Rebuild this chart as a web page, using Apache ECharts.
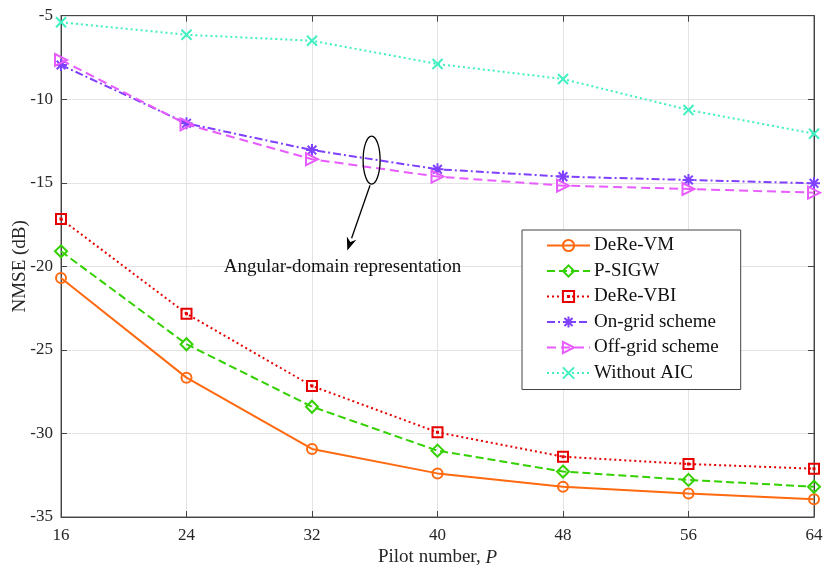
<!DOCTYPE html>
<html><head><meta charset="utf-8">
<script src="https://cdn.jsdelivr.net/npm/echarts@6/dist/echarts.min.js"></script>
<style>html,body{margin:0;padding:0;background:#fff}#c{width:831px;height:572px}</style>
</head><body><div id="c"></div>
<script>
const pilots = [16, 24, 32, 40, 48, 56, 64];
const dereVM = [-20.70, -26.66, -30.93, -32.39, -33.19, -33.59, -33.94];
const pSIGW = [-19.10, -24.66, -28.40, -31.03, -32.28, -32.78, -33.19];
const dereVBI = [-17.17, -22.83, -27.16, -29.93, -31.39, -31.83, -32.11];
const onGrid = [-7.95, -11.44, -13.04, -14.19, -14.63, -14.83, -15.03];
const offGrid = [-7.65, -11.50, -13.59, -14.63, -15.17, -15.37, -15.59];
const withoutAIC = [-5.39, -6.14, -6.50, -7.89, -8.79, -10.64, -12.06];
const xTicks = {min: 16, max: 64, interval: 8};
const yTicks = {min: -35, max: -5, interval: 5};
const annotationText = 'Angular-domain representation';
const ellipseCenter = [35.8, -13.64];
const arrowFrom = [35.7, -15.15];
const arrowTo = [34.25, -19.05];
const textPos = [33.95, -20.05];

const FONT = 'Liberation Serif';
const zip = a => pilots.map((p, i) => [p, a[i]]);

const SYM = {
  circle: 'circle',
  diamond: 'diamond',
  asterisk: 'path://M0,-1L0,1M-1,0L1,0M-0.72,-0.72L0.72,0.72M-0.72,0.72L0.72,-0.72',
  tri: 'path://M0,0L10,5L0,10Z',
  cross: 'path://M0,0L10,10M0,10L10,0',
  sq: 'path://M0,0H10V10H0ZM4.5,4.5H5.5V5.5H4.5Z'
};

function s(name, data, color, type, symbol, size) {
  return {
    name, type: 'line', data: zip(data), symbol, symbolSize: size,
    lineStyle: {color, width: 2, type},
    itemStyle: {color: 'transparent', borderColor: color, borderWidth: 2},
    emphasis: {disabled: true}, z: 3
  };
}

const series = [
  s('DeRe-VM', dereVM, '#ff6a10', 'solid', SYM.circle, 10),
  s('P-SIGW', pSIGW, '#33d100', [8, 4], SYM.diamond, 12),
  s('DeRe-VBI', dereVBI, '#e60000', [2, 3], SYM.sq, 10),
  s('On-grid scheme', onGrid, '#8040ff', [8, 3, 2, 3], SYM.asterisk, 12),
  s('Off-grid scheme', offGrid, '#e85cff', [9, 5], SYM.tri, 12),
  s('Without AIC', withoutAIC, '#40f0c0', [2, 3], SYM.cross, 10)
];

const tickLbl = {color: '#262626', fontFamily: FONT, fontSize: 17};
const axisCol = '#444';
const chart = echarts.init(document.getElementById('c'));
chart.setOption({
  animation: false,
  backgroundColor: '#fff',
  grid: {left: 61, right: 17, top: 15.7, bottom: 55, containLabel: false, outerBoundsMode: 'none', show: true, borderColor: '#555', borderWidth: 1, backgroundColor: 'transparent'},
  legend: {
    orient: 'vertical', left: 522, top: 230,
    backgroundColor: '#fff', borderColor: '#444', borderWidth: 1,
    padding: [6, 22, 7, 24], itemWidth: 43, itemHeight: 14, itemGap: 6.5,
    textStyle: {fontFamily: FONT, fontSize: 19, color: '#111', padding: [0, 0, 0, -1]},
    data: series.map(x => x.name)
  },
  xAxis: [{
    type: 'value', ...xTicks, position: 'bottom',
    name: '{a|Pilot number, }{b|P}', nameLocation: 'middle', nameGap: 31, nameMoveOverlap: false,
    nameTextStyle: {rich: {a: {fontFamily: FONT, fontSize: 19, color: '#262626'}, b: {fontFamily: FONT, fontSize: 19, fontStyle: 'italic', color: '#262626'}}},
    axisLine: {show: true, lineStyle: {color: axisCol}},
    axisTick: {inside: true, length: 6, lineStyle: {color: axisCol}},
    axisLabel: {...tickLbl, margin: 10},
    splitLine: {show: true, lineStyle: {color: '#e3e3e3'}}
  }, {
    type: 'value', ...xTicks, position: 'top',
    axisLine: {show: true, lineStyle: {color: axisCol}},
    axisTick: {inside: true, length: 6, lineStyle: {color: axisCol}},
    axisLabel: {show: false}, splitLine: {show: false}
  }],
  yAxis: [{
    type: 'value', ...yTicks, position: 'left',
    name: 'NMSE (dB)', nameLocation: 'middle', nameGap: 31, nameMoveOverlap: false,
    nameTextStyle: {fontFamily: FONT, fontSize: 19, color: '#262626'},
    axisLine: {show: true, lineStyle: {color: axisCol}},
    axisTick: {inside: true, length: 6, lineStyle: {color: axisCol}},
    axisLabel: {...tickLbl, margin: 8},
    splitLine: {show: true, lineStyle: {color: '#e3e3e3'}}
  }, {
    type: 'value', ...yTicks, position: 'right',
    axisLine: {show: true, lineStyle: {color: axisCol}},
    axisTick: {inside: true, length: 6, lineStyle: {color: axisCol}},
    axisLabel: {show: false}, splitLine: {show: false}
  }],
  series
});

const px = p => chart.convertToPixel({xAxisIndex: 0, yAxisIndex: 0}, p);
const ec = px(ellipseCenter), a0 = px(arrowFrom), a1 = px(arrowTo), tp = px(textPos);
const dx = a1[0] - a0[0], dy = a1[1] - a0[1], L = Math.hypot(dx, dy);
const ux = dx / L, uy = dy / L, hl = 13, hw = 5;
const bx = a1[0] - ux * hl, by = a1[1] - uy * hl;
chart.setOption({
  graphic: [
    {type: 'ellipse', shape: {cx: ec[0], cy: ec[1], rx: 8.5, ry: 24}, style: {fill: 'none', stroke: '#000', lineWidth: 1.3}, z: 10},
    {type: 'line', shape: {x1: a0[0], y1: a0[1], x2: bx, y2: by}, style: {stroke: '#000', lineWidth: 1.3}, z: 10},
    {type: 'polygon', shape: {points: [[a1[0], a1[1]], [bx - uy * hw, by + ux * hw], [a1[0] - ux * hl * 0.7, a1[1] - uy * hl * 0.7], [bx + uy * hw, by - ux * hw]]}, style: {fill: '#000'}, z: 10},
    {type: 'text', x: tp[0], y: tp[1], style: {text: annotationText, font: '19px "Liberation Serif"', fill: '#111', align: 'center', verticalAlign: 'middle'}, z: 10}
  ]
});
</script></body></html>
